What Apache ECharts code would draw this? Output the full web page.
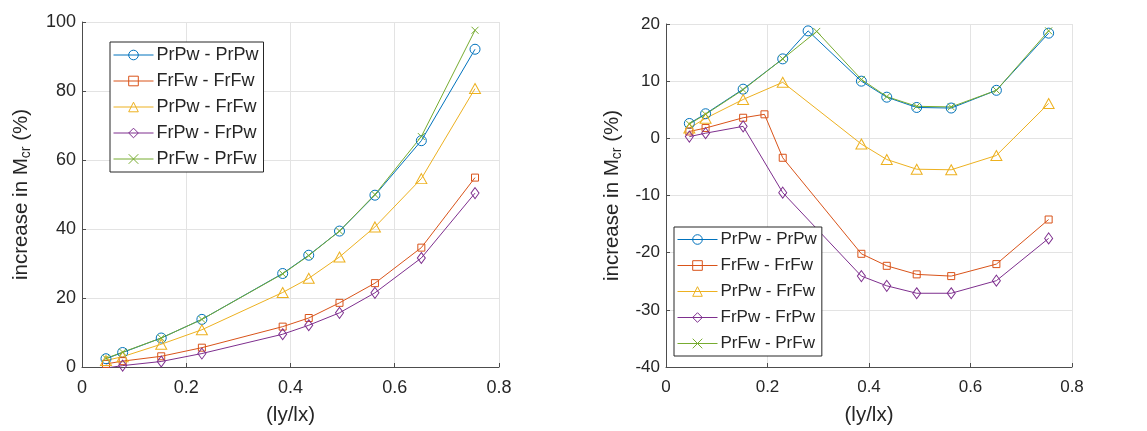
<!DOCTYPE html>
<html>
<head>
<meta charset="utf-8">
<title>Increase in Mcr vs ly/lx</title>
<script src="https://cdn.jsdelivr.net/npm/echarts@6/dist/echarts.min.js"></script>
<style>
  html, body { margin: 0; padding: 0; background: #ffffff; }
  #chart { width: 1147px; height: 431px; }
</style>
</head>
<body>
<div id="chart"></div>
<script>
// ---- data ----
const seriesNames = ['PrPw - PrPw', 'FrFw - FrFw', 'PrPw - FrFw', 'FrPw - FrPw', 'PrFw - PrFw'];
const ratioX = [0.046, 0.078, 0.152, 0.230, 0.385, 0.435, 0.494, 0.562, 0.651, 0.754];

// left panel (all series share ratioX)
const leftPrPwPrPw = [2.4, 4.2, 8.4, 13.8, 27.1, 32.4, 39.4, 49.8, 65.6, 92.1];
const leftFrFwFrFw = [0.9, 1.7, 3.1, 5.6, 11.7, 14.2, 18.6, 24.3, 34.6, 54.9];
const leftPrPwFrFw = [1.9, 3.0, 6.6, 10.8, 21.6, 25.7, 31.9, 40.6, 54.6, 80.7];
const leftFrPwFrPw = [-0.3, 0.4, 1.6, 3.9, 9.5, 12.1, 15.7, 21.5, 31.6, 50.4];
const leftPrFwPrFw = [2.5, 4.3, 8.4, 13.8, 27.0, 32.3, 39.4, 50.0, 66.8, 97.6];

// right panel (some series carry one extra sample)
const rightXPrPwPrPw = [0.046, 0.078, 0.152, 0.230, 0.280, 0.385, 0.435, 0.494, 0.562, 0.651, 0.754];
const rightPrPwPrPw  = [2.6, 4.3, 8.6, 13.9, 18.8, 10.0, 7.2, 5.4, 5.3, 8.4, 18.4];
const rightXFrFwFrFw = [0.046, 0.078, 0.152, 0.194, 0.230, 0.385, 0.435, 0.494, 0.562, 0.651, 0.754];
const rightFrFwFrFw  = [1.2, 1.8, 3.6, 4.2, -3.4, -20.2, -22.3, -23.8, -24.1, -22.0, -14.2];
const rightPrPwFrFw  = [1.8, 3.5, 6.8, 9.8, -1.0, -3.7, -5.4, -5.5, -3.0, 6.1];
const rightFrPwFrPw  = [0.3, 0.9, 2.1, -9.5, -24.1, -25.8, -27.1, -27.1, -24.9, -17.5];
const rightXPrFwPrFw = [0.046, 0.078, 0.152, 0.230, 0.297, 0.385, 0.435, 0.494, 0.562, 0.651, 0.754];
const rightPrFwPrFw  = [2.5, 4.2, 8.5, 13.9, 18.7, 10.3, 7.3, 5.6, 5.5, 8.4, 18.8];

const xTicks = [0, 0.2, 0.4, 0.6, 0.8];
const leftYRange = [0, 100, 20];
const rightYRange = [-40, 20, 10];

// ---- styling ----
const FONT = '"Liberation Sans", Arial, Helvetica, sans-serif';
const TEXT = '#262626';
const AXIS = '#4d4d4d';
const GRIDLINE = '#e3e3e3';
const colors = ['#0072BD', '#D95319', '#EDB120', '#7E2F8E', '#77AC30'];
const symbols = ['circle', 'rect', 'triangle', 'diamond', 'path://M0 0L10 10M10 0L0 10'];
const symbolSizes = [10, 7, [11, 10], [8, 11], 7];
const LABEL_FS = 20.5;

function zip(xs, ys) { return xs.map((x, i) => [x, ys[i]]); }

function xAxisFor(gridIndex, fs) {
  return {
    type: 'value', gridIndex, min: 0, max: 0.8, interval: 0.2,
    name: '(ly/lx)', nameLocation: 'middle', nameGap: 38,
    nameTextStyle: { fontFamily: FONT, fontSize: LABEL_FS, color: TEXT },
    axisLine: { show: true, onZero: false, lineStyle: { color: AXIS, width: 1 } },
    axisTick: { show: true, inside: true, length: 4, lineStyle: { color: AXIS } },
    axisLabel: {
      fontFamily: FONT, fontSize: fs, color: TEXT, margin: 12,
      formatter: v => {
        const t = xTicks.find(k => Math.abs(k - v) < 1e-9);
        return t === 0 ? '0' : (t !== undefined ? t.toFixed(1) : '');
      }
    },
    splitLine: { show: true, lineStyle: { color: GRIDLINE, width: 1 } }
  };
}

function yAxisFor(gridIndex, range, fs, gap) {
  return {
    type: 'value', gridIndex, min: range[0], max: range[1], interval: range[2],
    name: '{n|increase in M}{s|cr}{n| (%)}',
    nameLocation: 'middle', nameRotate: 90, nameGap: gap,
    nameTextStyle: {
      fontFamily: FONT, color: TEXT,
      rich: {
        n: { fontFamily: FONT, fontSize: LABEL_FS, color: TEXT, lineHeight: 24, verticalAlign: 'middle' },
        s: { fontFamily: FONT, fontSize: 14, color: TEXT, lineHeight: 14, verticalAlign: 'bottom', padding: [11, 0, 0, 0] }
      }
    },
    axisLine: { show: true, onZero: false, lineStyle: { color: AXIS, width: 1 } },
    axisTick: { show: true, inside: true, length: 4, lineStyle: { color: AXIS } },
    axisLabel: { fontFamily: FONT, fontSize: fs, color: TEXT, margin: 6 },
    splitLine: { show: true, lineStyle: { color: GRIDLINE, width: 1 } }
  };
}

function makeSeries(k, axisIndex, data) {
  return {
    type: 'line', name: seriesNames[k],
    xAxisIndex: axisIndex, yAxisIndex: axisIndex,
    data,
    symbol: symbols[k], symbolSize: symbolSizes[k], showSymbol: true,
    lineStyle: { color: colors[k], width: 1 },
    itemStyle: { color: 'rgba(0,0,0,0)', borderColor: colors[k], borderWidth: 1 },
    emphasis: { disabled: true },
    animation: false
  };
}

function legendFor(left, top, fs, gap) {
  return {
    data: seriesNames, orient: 'vertical', left, top,
    itemWidth: 40, itemHeight: 12, itemGap: gap,
    padding: [4, 5, 4, 3],
    backgroundColor: '#ffffff', borderColor: '#262626', borderWidth: 1, borderRadius: 0,
    selectedMode: false,
    textStyle: { fontFamily: FONT, fontSize: fs, color: TEXT, padding: [0, 0, 0, -2] },
    lineStyle: { width: 1 },
    itemStyle: { borderWidth: 1 }
  };
}

const leftSets = [leftPrPwPrPw, leftFrFwFrFw, leftPrPwFrFw, leftFrPwFrPw, leftPrFwPrFw];
const rightSets = [
  zip(rightXPrPwPrPw, rightPrPwPrPw),
  zip(rightXFrFwFrFw, rightFrFwFrFw),
  zip(ratioX, rightPrPwFrFw),
  zip(ratioX, rightFrPwFrPw),
  zip(rightXPrFwPrFw, rightPrFwPrFw)
];

const series = [];
leftSets.forEach((ys, k) => series.push(makeSeries(k, 0, zip(ratioX, ys))));
rightSets.forEach((pts, k) => series.push(makeSeries(k, 1, pts)));

const chart = echarts.init(document.getElementById('chart'), null, { renderer: 'canvas' });
chart.setOption({
  backgroundColor: '#ffffff',
  animation: false,
  textStyle: { fontFamily: FONT },
  grid: [
    { left: 82, top: 22, width: 417, height: 345, containLabel: false },
    { left: 666, top: 24, width: 406, height: 343, containLabel: false }
  ],
  xAxis: [xAxisFor(0, 18), xAxisFor(1, 17)],
  yAxis: [yAxisFor(0, leftYRange, 18, 49), yAxisFor(1, rightYRange, 17, 42)],
  legend: [legendFor(110, 42, 18, 8), legendFor(674, 227, 17, 9)],
  tooltip: { show: false },
  series
});
</script>
</body>
</html>
